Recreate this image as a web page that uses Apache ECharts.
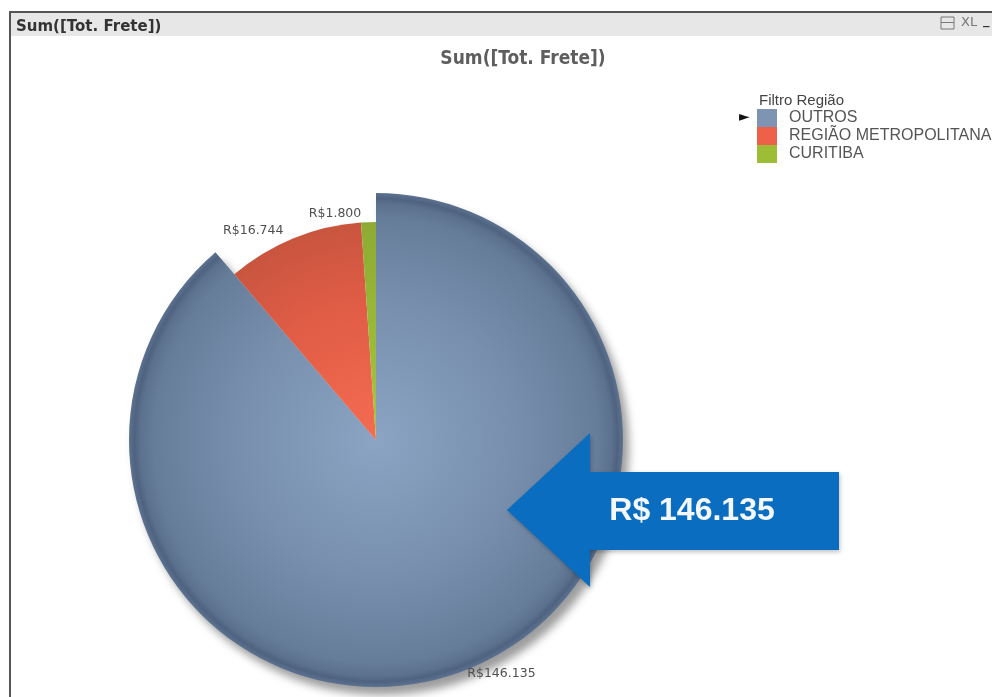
<!DOCTYPE html>
<html>
<head>
<meta charset="utf-8">
<script src="https://cdn.jsdelivr.net/npm/echarts@6/dist/echarts.min.js"></script>
<style>
  html, body { margin: 0; padding: 0; background: #fff; }
  #main { width: 992px; height: 697px; }
</style>
</head>
<body>
<div id="main"></div>
<script>
// dados
var regioes = ['OUTROS', 'REGIÃO METROPOLITANA', 'CURITIBA']
var valores = [146135, 16744, 1800]
var cores = ['#7d95b3', '#ee6049', '#9cbd35']

var centro = [376, 440]
var raioMaior = 247
var raioMenor = 218

function fmt (v) {
  return String(v).replace(/\B(?=(\d{3})+(?!\d))/g, '.')
}

function radial (r, stops) {
  return {
    type: 'radial', x: centro[0], y: centro[1], r: r, global: true,
    colorStops: stops.map(function (s) { return { offset: s[0], color: s[1] } })
  }
}

var gradientes = [
  radial(raioMaior, [[0, '#8ba4c3'], [0.55, '#7890ae'], [0.9, '#667d9a'], [0.955, '#5b718e'], [0.978, '#4f6380'], [1, '#5b7290']]),
  radial(raioMenor, [[0, '#f46c52'], [0.6, '#e25d46'], [1, '#c9553f']]),
  radial(raioMenor, [[0, '#a6c73a'], [1, '#8eaa34']])
]

var invisivel = { color: 'rgba(0,0,0,0)' }

// fatia azul (maior) e fatias menores em séries separadas
var dadosExterno = regioes.map(function (n, i) {
  return {
    name: n,
    value: valores[i],
    itemStyle: i === 0 ? {
      color: gradientes[0],
      shadowColor: 'rgba(60,60,60,0.5)',
      shadowBlur: 8,
      shadowOffsetX: 6,
      shadowOffsetY: 8
    } : invisivel,
    label: { show: i === 0 }
  }
})
var dadosInterno = regioes.map(function (n, i) {
  return {
    name: n,
    value: valores[i],
    itemStyle: i === 0 ? invisivel : { color: gradientes[i] },
    label: { show: i !== 0 }
  }
})

var rotulo = {
  position: 'outside',
  fontFamily: 'DejaVu Sans',
  fontSize: 12.5,
  color: '#505050',
  formatter: function (p) { return 'R$' + fmt(p.value) }
}

var myChart = echarts.init(document.getElementById('main'), null, { renderer: 'canvas' })
var option = {
  animation: false,
  backgroundColor: '#fff',
  title: [
    {
      text: 'Sum([Tot. Frete])',
      left: 11, top: 15,
      textStyle: { fontFamily: 'DejaVu Sans', fontWeight: 'bold', fontSize: 15, color: '#333' }
    },
    {
      text: 'Sum([Tot. Frete])',
      left: 518, top: 45, textAlign: 'center',
      textStyle: { fontFamily: 'DejaVu Sans Condensed', fontWeight: 'bold', fontSize: 19, color: '#5e5e5e' }
    },
    {
      text: 'Filtro Região',
      left: 754, top: 88,
      textStyle: { fontFamily: 'Liberation Sans', fontWeight: 'normal', fontSize: 15, color: '#444' }
    }
  ],
  legend: {
    orient: 'vertical',
    left: 757, top: 109,
    padding: 0,
    itemWidth: 20, itemHeight: 18, itemGap: 0,
    icon: 'rect',
    selectedMode: false,
    textStyle: { fontFamily: 'Liberation Sans', fontSize: 16, color: '#555', padding: [0, 0, 0, 7] },
    data: regioes.map(function (n, i) { return { name: n, itemStyle: { color: cores[i] } } })
  },
  graphic: [
    { type: 'rect', shape: { x: 11, y: 13, width: 981, height: 23 }, style: { fill: '#e7e7e7' }, z: -1 },
    { type: 'rect', shape: { x: 9, y: 11, width: 983, height: 2 }, style: { fill: '#555' } },
    { type: 'rect', shape: { x: 9, y: 11, width: 2, height: 686 }, style: { fill: '#555' } },
    { type: 'rect', shape: { x: 941, y: 17, width: 13, height: 12 }, style: { fill: 'none', stroke: '#777', lineWidth: 1 } },
    { type: 'rect', shape: { x: 941, y: 22, width: 13, height: 1 }, style: { fill: '#777' } },
    { type: 'text', style: { x: 961, y: 16, text: 'XL', fill: '#777', font: '13px DejaVu Sans' } },
    { type: 'text', style: { x: 983, y: 14, text: '_', fill: '#333', font: 'bold 13px DejaVu Sans' } },
    { type: 'text', style: { x: 739, y: 110, text: '►', fill: '#111', font: '14px DejaVu Sans' } },
    {
      type: 'polygon',
      shape: { points: [[507, 510], [590, 433], [590, 472], [839, 472], [839, 550], [590, 550], [590, 587]] },
      style: { fill: '#0a6dc0', shadowColor: 'rgba(0,0,0,0.25)', shadowBlur: 4, shadowOffsetX: 1, shadowOffsetY: 2 },
      z: 10
    },
    {
      type: 'text', z: 11,
      style: {
        x: 692, y: 511, text: 'R$ ' + fmt(valores[0]),
        fill: '#f4f8fc', font: 'bold 32px Liberation Sans',
        textAlign: 'center', textVerticalAlign: 'middle'
      }
    }
  ],
  series: [
    {
      type: 'pie',
      center: centro,
      radius: [0, raioMaior],
      startAngle: 90,
      clockwise: true,
      silent: true,
      avoidLabelOverlap: false,
      label: rotulo,
      labelLine: { show: false, length: 2, length2: 0 },
      emphasis: { disabled: true },
      data: dadosExterno
    },
    {
      type: 'pie',
      center: centro,
      radius: [0, raioMenor],
      startAngle: 90,
      clockwise: true,
      silent: true,
      avoidLabelOverlap: false,
      label: rotulo,
      labelLine: { show: false, length: 8, length2: 2 },
      emphasis: { disabled: true },
      data: dadosInterno
    }
  ]
}
myChart.setOption(option)
</script>
</body>
</html>
